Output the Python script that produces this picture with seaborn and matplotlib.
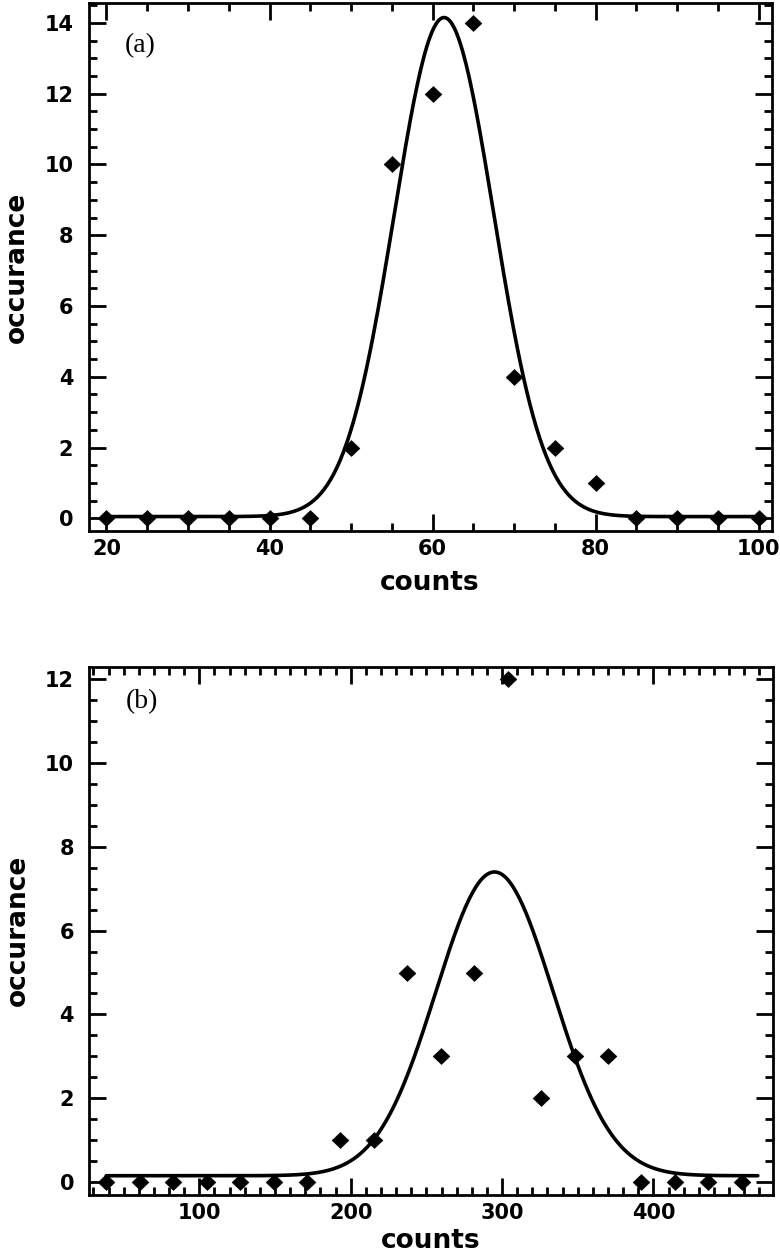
import numpy as np
import matplotlib
matplotlib.use("Agg")
import matplotlib.pyplot as plt
from matplotlib.path import Path
from matplotlib.markers import MarkerStyle
from matplotlib.ticker import MultipleLocator
import seaborn as sns
import pandas as pd

# ---- data: panel (a) ----
counts_a = [20, 25, 30, 35, 40, 45, 50, 55, 60, 65, 70, 75, 80, 85, 90, 95, 100]
occ_a = [0, 0, 0, 0, 0, 0, 2, 10, 12, 14, 4, 2, 1, 0, 0, 0, 0]
# Gaussian fit parameters: amplitude, centre, sigma, baseline
fit_a = dict(amp=14.1, mu=61.4, sigma=6.1, base=0.05)
fit_range_a = (20, 100)

# ---- data: panel (b) ----
counts_b = [38.5, 60.6, 82.7, 104.8, 126.9, 149.0, 171.1, 193.2, 215.3, 237.4,
            259.5, 281.6, 303.7, 325.8, 347.9, 370.0, 392.1, 414.2, 436.3, 458.4]
occ_b = [0, 0, 0, 0, 0, 0, 0, 1, 1, 5, 3, 5, 12, 2, 3, 3, 0, 0, 0, 0]
fit_b = dict(amp=7.25, mu=295.0, sigma=38.7, base=0.15)
fit_range_b = (38.5, 469)

panel_labels = ["(a)", "(b)"]
xlabel = "counts"
ylabel = "occurance"


def gauss_curve(p, rng, n=400):
    x = np.linspace(rng[0], rng[1], n)
    y = p["base"] + p["amp"] * np.exp(-(x - p["mu"]) ** 2 / (2 * p["sigma"] ** 2))
    return pd.DataFrame({"x": x, "y": y})


sns.set_theme(style="ticks")
plt.rcParams["font.family"] = ["DejaVu Sans"]
plt.rcParams["font.weight"] = "bold"
plt.rcParams["text.color"] = "black"
plt.rcParams["axes.labelcolor"] = "black"
plt.rcParams["xtick.color"] = "black"
plt.rcParams["ytick.color"] = "black"
plt.rcParams["xtick.labelcolor"] = "black"
plt.rcParams["ytick.labelcolor"] = "black"

fig = plt.figure(figsize=(7.8, 12.55), dpi=100)
ax1 = fig.add_axes([0.1135, 0.5771, 0.876, 0.4205])
ax2 = fig.add_axes([0.1145, 0.0478, 0.8765, 0.421])

diamond = MarkerStyle(Path([(-1, 0), (0, 0.95), (1, 0), (0, -0.95), (-1, 0)],
                           [Path.MOVETO, Path.LINETO, Path.LINETO, Path.LINETO, Path.CLOSEPOLY]))

panels = [
    (ax1, counts_a, occ_a, fit_a, fit_range_a, (17.8, 101.6), (-0.35, 14.56),
     20, 5, 2, 0.5, 0.9185, 8),
    (ax2, counts_b, occ_b, fit_b, fit_range_b, (27.3, 479.0), (-0.31, 12.3),
     100, 10, 2, 0.5, 0.933, 3),
]

for (ax, cx, cy, fit, frange, xlim, ylim, xmaj, xmin, ymaj, ymin, ly, xlp), lab in zip(panels, panel_labels):
    curve = gauss_curve(fit, frange)
    sns.lineplot(data=curve, x="x", y="y", color="black", linewidth=2.6, ax=ax,
                 zorder=2)
    sns.scatterplot(x=cx, y=cy, marker=diamond, s=144, color="black",
                    edgecolor="black", linewidth=0.5, ax=ax, zorder=3, clip_on=False)
    ax.set_xlim(*xlim)
    ax.set_ylim(*ylim)
    ax.xaxis.set_major_locator(MultipleLocator(xmaj))
    ax.xaxis.set_minor_locator(MultipleLocator(xmin))
    ax.yaxis.set_major_locator(MultipleLocator(ymaj))
    ax.yaxis.set_minor_locator(MultipleLocator(ymin))
    ax.tick_params(which="both", direction="in", top=True, right=True,
                   width=2.0, color="black", labelcolor="black")
    ax.tick_params(which="major", length=12)
    ax.tick_params(which="minor", length=6)
    ax.tick_params(axis="x", which="major", pad=6, labelsize=15)
    ax.tick_params(axis="y", which="major", pad=11, labelsize=15)
    for t in ax.get_xticklabels() + ax.get_yticklabels():
        t.set_fontweight("bold")
    for sp in ax.spines.values():
        sp.set_visible(True)
        sp.set_linewidth(2.0)
        sp.set_color("black")
    ax.set_xlabel(xlabel, fontsize=19, fontweight="bold", labelpad=xlp, color="black")
    ax.set_ylabel(ylabel, fontsize=19, fontweight="bold", labelpad=10, color="black")
    ax.text(0.053, ly, lab, transform=ax.transAxes, fontsize=20, color="black",
            family=["Liberation Serif"], fontweight="normal", va="center", ha="left")
    ax.grid(False)

fig.savefig("out.png", dpi=100, facecolor="white")
